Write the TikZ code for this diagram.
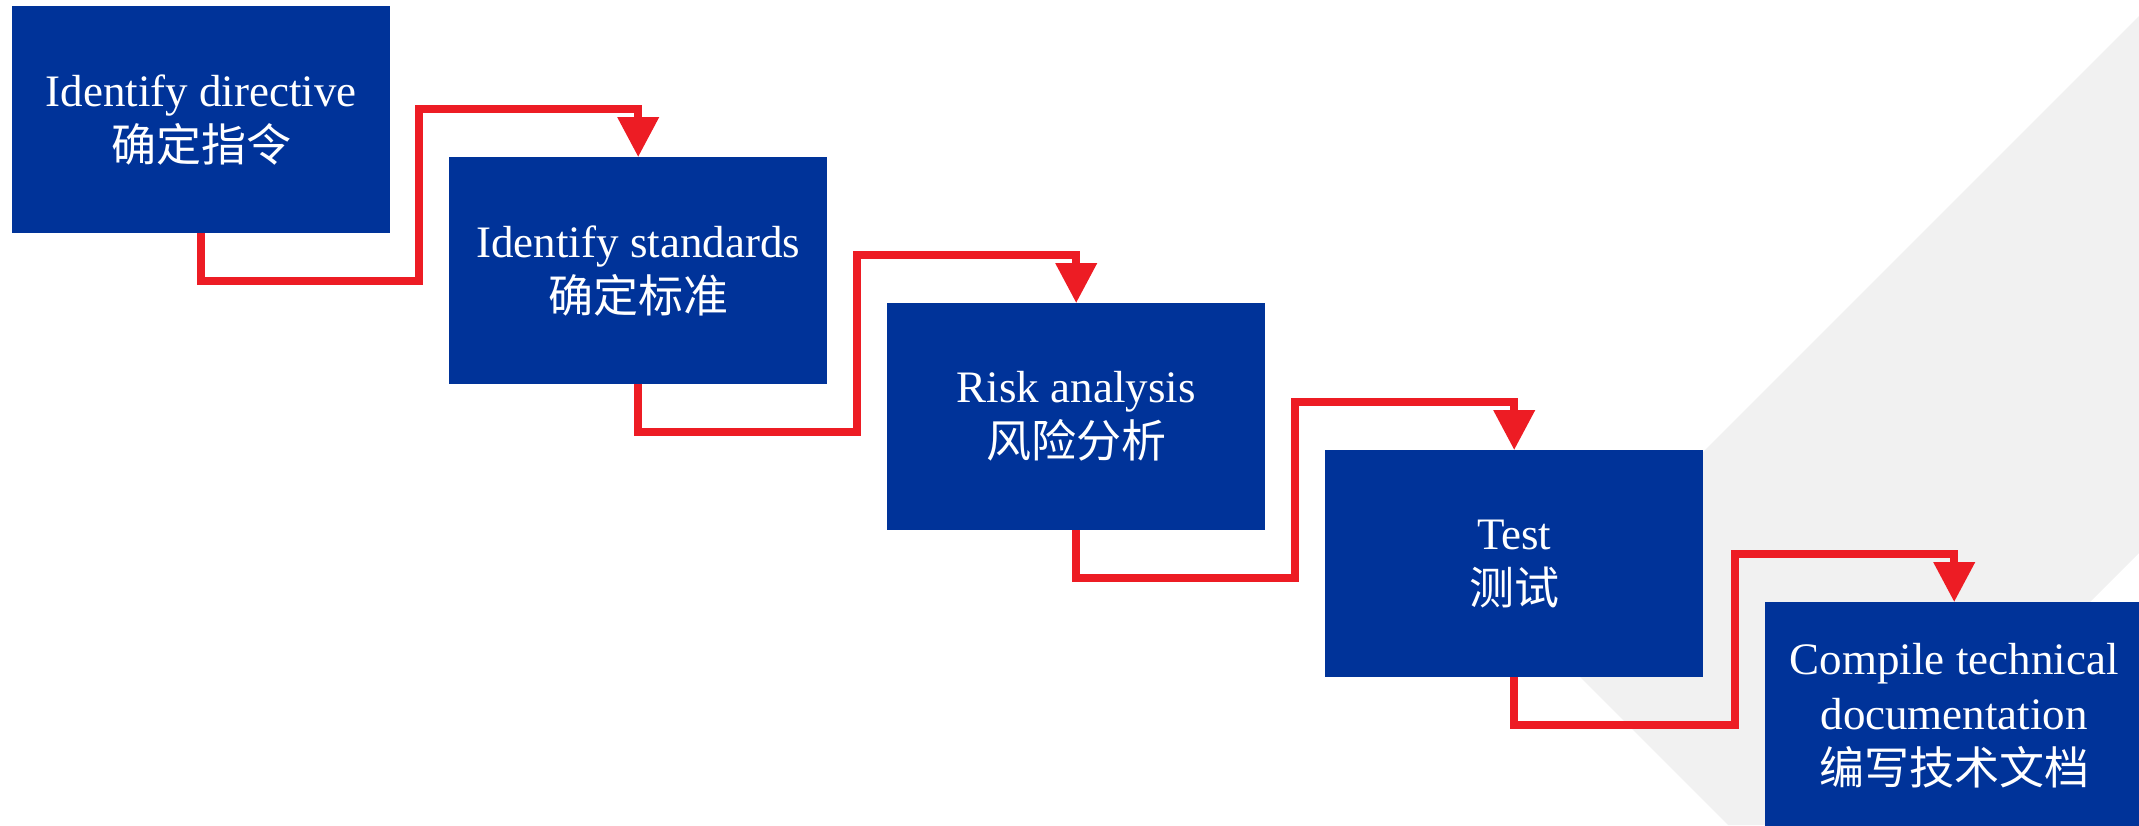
\documentclass[tikz,border=0pt]{standalone}
\usepackage{fontspec}
\setmainfont{Liberation Serif}
\newfontfamily\cjk{Noto Sans CJK SC}
\usetikzlibrary{arrows.meta,calc}
\definecolor{boxblue}{RGB}{0,51,153}
\definecolor{arrred}{RGB}{237,28,36}
\definecolor{bggray}{RGB}{241,241,241}
\tikzset{
  stepbox/.style={fill=boxblue, text=white, minimum width=378pt, minimum height=227pt,
    inner sep=0pt, anchor=north west, align=center, font=\fontsize{45}{55}\selectfont},
  conn/.style={draw=arrred, line width=7.5pt, -{Triangle[length=40pt,width=40pt]}, line join=miter}
}
\begin{document}
\begin{tikzpicture}[x=1pt,y=-1pt]
\useasboundingbox (0,0) rectangle (2139,825);
\clip (0,0) rectangle (2139,825);
\fill[bggray] (2139,16) -- (1529,626) -- (1728,825) -- (1867,825) -- (2139,553) -- cycle;
\node[stepbox] (b1) at (12,6) {Identify directive\\{\cjk 确定指令}};
\node[stepbox] (b2) at (449,157) {Identify standards\\{\cjk 确定标准}};
\node[stepbox] (b3) at (887,303) {Risk analysis\\{\cjk 风险分析}};
\node[stepbox] (b4) at (1325,450) {Test\\{\cjk 测试}};
\node[stepbox] (b5) at (1765,602) {Compile technical\\documentation\\{\cjk 编写技术文档}};
\draw[conn] (b1.south) -- ++(0,47.5) -| ($(b2.north west)+(-30,-48)$) -| (b2.north);
\draw[conn] (b2.south) -- ++(0,47.5) -| ($(b3.north west)+(-30,-48)$) -| (b3.north);
\draw[conn] (b3.south) -- ++(0,47.5) -| ($(b4.north west)+(-30,-48)$) -| (b4.north);
\draw[conn] (b4.south) -- ++(0,47.5) -| ($(b5.north west)+(-30,-48)$) -| (b5.north);
\end{tikzpicture}
\end{document}
